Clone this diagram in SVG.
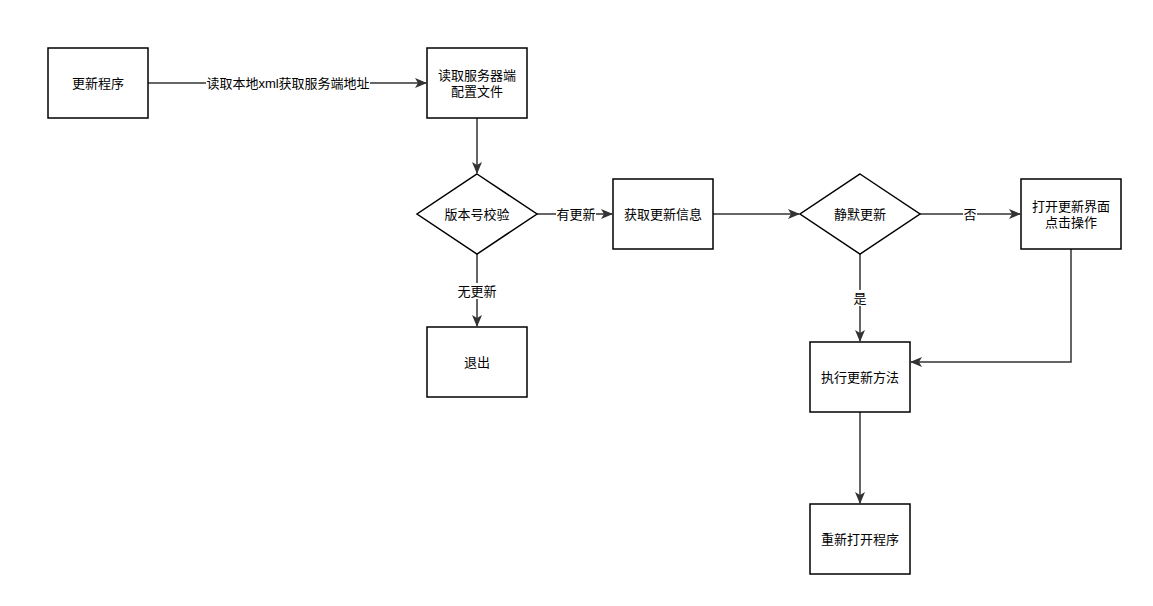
<svg xmlns="http://www.w3.org/2000/svg" width="1153" height="606" viewBox="0 0 1153 606">
<defs>
<marker id="a" markerWidth="12" markerHeight="10" refX="11" refY="5" orient="auto" markerUnits="userSpaceOnUse"><path d="M0,0 L12,5 L0,10 L3,5 Z" fill="#333"/></marker>
<style>
.n{fill:#fff;stroke:#000;stroke-width:1.5}
.t{font-family:"Liberation Sans","Noto Sans CJK SC",sans-serif;font-size:13px;fill:#000;text-anchor:middle;dominant-baseline:central}
.c{fill:none;stroke:#333;stroke-width:1.5;marker-end:url(#a)}
.lb{fill:#fff}
</style>
</defs>
<rect width="1153" height="606" fill="#fff"/>
<g id="connectors">
<path class="c" d="M148,83 H426"/>
<path class="c" d="M477,118 V173"/>
<path class="c" d="M537,214 H612"/>
<path class="c" d="M477,254 V326"/>
<path class="c" d="M713,214 H799"/>
<path class="c" d="M920,214 H1020"/>
<path class="c" d="M860,254 V341"/>
<path class="c" d="M1071,249 V362 H911"/>
<path class="c" d="M860,412 V503"/>
<rect class="lb" x="206" y="75" width="164" height="16"/>
<text class="t" x="288" y="83">读取本地xml获取服务端地址</text>
<rect class="lb" x="556" y="206" width="40" height="16"/>
<text class="t" x="576" y="214">有更新</text>
<rect class="lb" x="457" y="283" width="40" height="16"/>
<text class="t" x="477" y="291">无更新</text>
<rect class="lb" x="963" y="206" width="14" height="16"/>
<text class="t" x="970" y="214">否</text>
<rect class="lb" x="853" y="290" width="14" height="16"/>
<text class="t" x="860" y="298">是</text>
</g>
<g id="n1"><rect class="n" x="48" y="48" width="100" height="70"/><text class="t" x="98" y="83">更新程序</text></g>
<g id="n2"><rect class="n" x="427" y="48" width="100" height="70"/><text class="t" x="477" y="75">读取服务器端</text><text class="t" x="477" y="91">配置文件</text></g>
<g id="n3"><path class="n" d="M477,174 L537,214 L477,254 L417,214 Z"/><text class="t" x="477" y="214">版本号校验</text></g>
<g id="n4"><rect class="n" x="613" y="179" width="100" height="70"/><text class="t" x="663" y="214">获取更新信息</text></g>
<g id="n5"><path class="n" d="M860,174 L920,214 L860,254 L800,214 Z"/><text class="t" x="860" y="214">静默更新</text></g>
<g id="n6"><rect class="n" x="1021" y="179" width="100" height="70"/><text class="t" x="1071" y="206">打开更新界面</text><text class="t" x="1071" y="222">点击操作</text></g>
<g id="n7"><rect class="n" x="427" y="327" width="100" height="70"/><text class="t" x="477" y="362">退出</text></g>
<g id="n8"><rect class="n" x="810" y="342" width="100" height="70"/><text class="t" x="860" y="377">执行更新方法</text></g>
<g id="n9"><rect class="n" x="810" y="504" width="100" height="70"/><text class="t" x="860" y="539">重新打开程序</text></g>
</svg>
